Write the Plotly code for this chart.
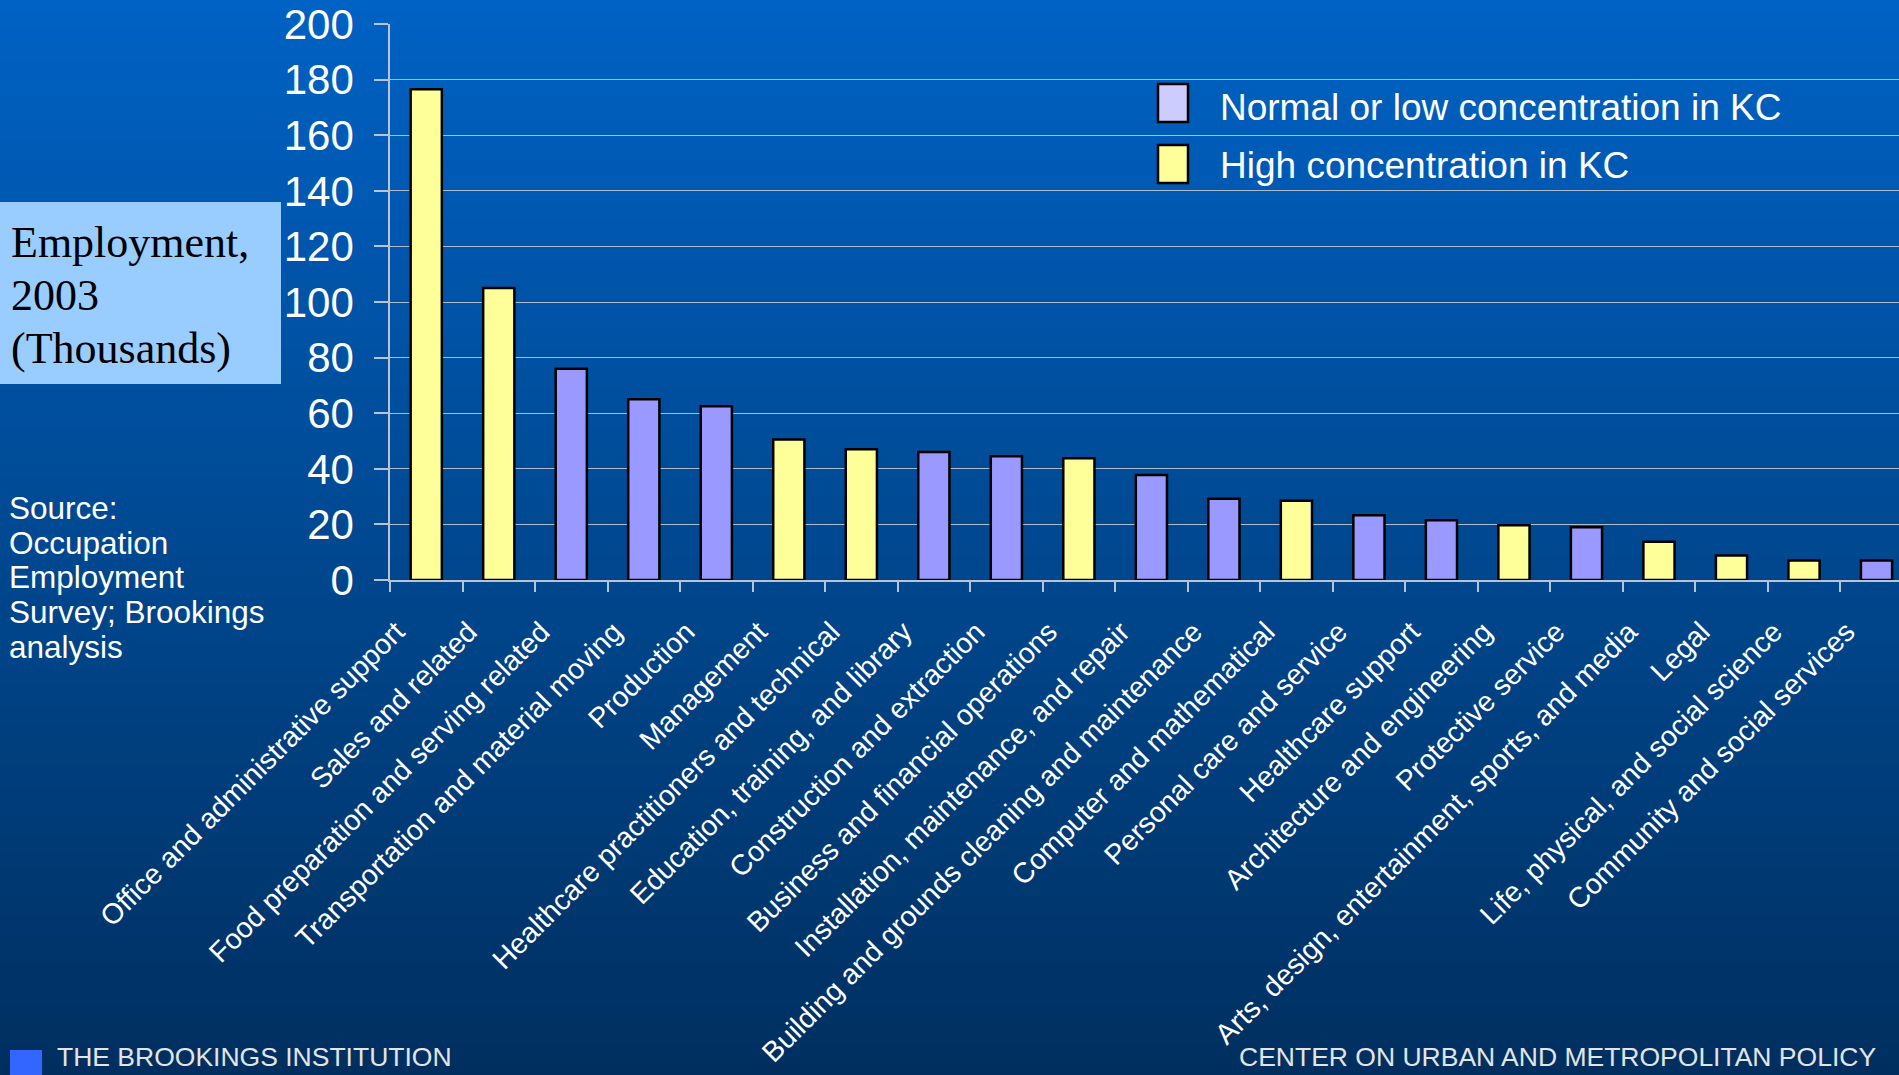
import plotly.graph_objects as go

# ---------------- data ----------------
categories = [
    "Office and administrative support",
    "Sales and related",
    "Food preparation and serving related",
    "Transportation and material moving",
    "Production",
    "Management",
    "Healthcare practitioners and technical",
    "Education, training, and library",
    "Construction and extraction",
    "Business and financial operations",
    "Installation, maintenance, and repair",
    "Building and grounds cleaning and maintenance",
    "Computer and mathematical",
    "Personal care and service",
    "Healthcare support",
    "Architecture and engineering",
    "Protective service",
    "Arts, design, entertainment, sports, and media",
    "Legal",
    "Life, physical, and social science",
    "Community and social services",
]
employment_thousands = [176.5, 105, 76, 65, 62.5, 50.5, 47, 46, 44.5, 43.8,
                        37.8, 29.2, 28.5, 23.3, 21.5, 19.7, 19, 13.8, 8.8, 7, 7]
high_concentration = [True, True, False, False, False, True, True, False, False, True,
                      False, False, True, False, False, True, False, True, True, True, False]
legend_labels = ["Normal or low concentration in KC", "High concentration in KC"]
y_ticks = [0, 20, 40, 60, 80, 100, 120, 140, 160, 180, 200]

# ---------------- geometry helpers ----------------
W, H = 1899, 1075
L, T, R, B = 390, 24, 0, 495
PW, PH = W - L - R, H - T - B


def px(x):
    return (x - L) / PW


def py(y):
    return (T + PH - y) / PH


COL_HIGH = "#FFFF99"
COL_LOW = "#9999FF"
COL_LOW_LEG = "#CCCCFF"

fig = go.Figure()
hi_x = [c for c, h in zip(categories, high_concentration) if h]
hi_y = [v for v, h in zip(employment_thousands, high_concentration) if h]
lo_x = [c for c, h in zip(categories, high_concentration) if not h]
lo_y = [v for v, h in zip(employment_thousands, high_concentration) if not h]

fig.add_trace(go.Bar(x=lo_x, y=lo_y, name=legend_labels[0], width=0.43,
                     marker=dict(color=COL_LOW, line=dict(color="black", width=2.5)),
                     showlegend=False))
fig.add_trace(go.Bar(x=hi_x, y=hi_y, name=legend_labels[1], width=0.43,
                     marker=dict(color=COL_HIGH, line=dict(color="black", width=2.5)),
                     showlegend=False))

shapes = []
# background gradient
top = (0x00, 0x62, 0xC4)
bot = (0x00, 0x2F, 0x5F)
N = 108
for i in range(N):
    t = (i + 0.5) / N
    c = tuple(round(top[k] + (bot[k] - top[k]) * t) for k in range(3))
    y0 = i * H / N
    y1 = (i + 1) * H / N + 1
    shapes.append(dict(type="rect", xref="paper", yref="paper", layer="below",
                       x0=px(0), x1=px(W), y0=py(y1), y1=py(y0),
                       fillcolor="rgb(%d,%d,%d)" % c, line=dict(width=0)))

# y-title box
shapes.append(dict(type="rect", xref="paper", yref="paper", layer="above",
                   x0=px(0), x1=px(281), y0=py(384), y1=py(202),
                   fillcolor="#99CCFF", line=dict(width=0)))
# legend squares
shapes.append(dict(type="rect", xref="paper", yref="paper", layer="above",
                   x0=px(1158), x1=px(1188), y0=py(122), y1=py(84),
                   fillcolor=COL_LOW_LEG, line=dict(color="black", width=2.5)))
shapes.append(dict(type="rect", xref="paper", yref="paper", layer="above",
                   x0=px(1158), x1=px(1188), y0=py(183), y1=py(145),
                   fillcolor=COL_HIGH, line=dict(color="black", width=2.5)))
# footer square
shapes.append(dict(type="rect", xref="paper", yref="paper", layer="above",
                   x0=px(10), x1=px(42), y0=py(1080), y1=py(1050),
                   fillcolor="#3366FF", line=dict(width=0)))

annotations = []


def text(x, y, s, size, family="Liberation Sans, Arial", color="white", xanchor="left"):
    annotations.append(dict(x=px(x), y=py(y), xref="paper", yref="paper", text=s,
                            showarrow=False, xanchor=xanchor, yanchor="middle",
                            font=dict(size=size, family=family, color=color)))


text(1218, 108, legend_labels[0], 37)
text(1218, 165, legend_labels[1], 37)

for i, s in enumerate(["Employment,", "2003", "(Thousands)"]):
    text(9, 242 + i * 53.5, s, 44, family="Liberation Serif, Times New Roman", color="black")

for i, s in enumerate(["Source:", "Occupation", "Employment", "Survey; Brookings", "analysis"]):
    text(7, 508 + i * 34.7, s, 31.5)

text(55, 1057, "THE BROOKINGS INSTITUTION", 26.5, color="#E4E4E4")
text(1237, 1057, "CENTER ON URBAN AND METROPOLITAN POLICY", 26.5, color="#E4E4E4")

fig.update_layout(
    width=W, height=H,
    margin=dict(l=L, r=R, t=T, b=B, pad=0),
    paper_bgcolor="rgb(0,47,95)",
    plot_bgcolor="rgba(0,0,0,0)",
    barmode="overlay",
    showlegend=False,
    shapes=shapes,
    annotations=annotations,
    font=dict(family="Liberation Sans, Arial", color="white"),
    xaxis=dict(
        type="category", categoryorder="array", categoryarray=categories,
        range=[-0.5, 20.31], tickangle=-45,
        tickfont=dict(size=28.5, color="white", family="Liberation Sans, Arial"),
        ticks="outside", tickson="boundaries", ticklen=10, tickwidth=1.5,
        tickcolor="#B8C4D4", showline=True, linecolor="#B8C4D4", linewidth=1.5,
        ticklabelshift=-30, ticklabelstandoff=22,
        showgrid=False, zeroline=False, fixedrange=True,
    ),
    yaxis=dict(
        range=[0, 200], tickvals=y_ticks,
        tickfont=dict(size=42, color="white", family="Liberation Sans, Arial"),
        ticks="outside", ticklen=14, tickwidth=1.5, tickcolor="#B8C4D4",
        ticklabelstandoff=12,
        showline=True, linecolor="#B8C4D4", linewidth=1.5,
        showgrid=True, gridcolor="#AEBBCC", gridwidth=1.2, zeroline=False,
    ),
)

fig.write_html("out.html")
